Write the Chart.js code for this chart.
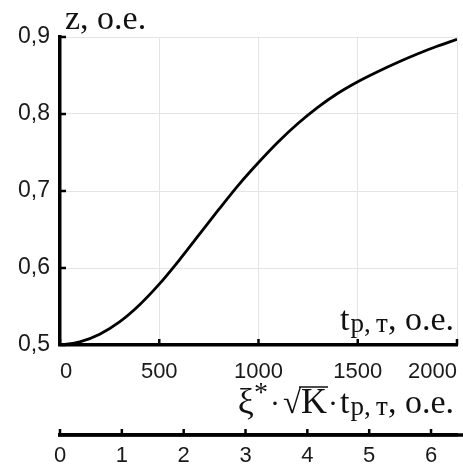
<!DOCTYPE html>
<html>
<head>
<meta charset="utf-8">
<script src="https://cdn.jsdelivr.net/npm/chart.js@4/dist/chart.umd.min.js"></script>
<style>
html,body{margin:0;padding:0;background:#fff;}
#c{display:block;}
</style>
</head>
<body>
<canvas id="c" width="463" height="468"></canvas>
<script>
// data
const tValues = [0,100,200,300,400,500,600,700,800,900,1000,1100,1200,1300,1400,1500,1600,1700,1800,1900,2000];
const zValues = [0.500,0.504,0.514,0.530,0.552,0.579,0.610,0.643,0.676,0.708,0.737,0.764,0.788,0.809,0.827,0.842,0.855,0.867,0.878,0.888,0.897];
const xTicks = [0,500,1000,1500,2000];
const yTicks = [0.5,0.6,0.7,0.8,0.9];
const x2Ticks = [0,1,2,3,4,5,6];
const x2Max = 6.42;

const SANS = '"Liberation Sans", Arial, sans-serif';
const SERIF = '"Liberation Serif", "Times New Roman", serif';

const tickMarks = {
  id: 'tickMarks',
  afterDraw(chart) {
    const ctx = chart.ctx;
    const {x, y, x2} = chart.scales;
    ctx.save();
    ctx.strokeStyle = '#000';
    ctx.lineWidth = 2.5;
    ctx.beginPath();
    xTicks.forEach(v => { const p = x.getPixelForValue(v); ctx.moveTo(p, y.bottom); ctx.lineTo(p, y.bottom - 6); });
    yTicks.forEach(v => { const p = y.getPixelForValue(v); ctx.moveTo(x.left, p); ctx.lineTo(x.left + 6, p); });
    x2Ticks.forEach(v => { const p = x2.getPixelForValue(v); ctx.moveTo(p, x2.top); ctx.lineTo(p, x2.top - 6); });
    ctx.stroke();
    // extend the lower axis line to the canvas edge
    ctx.lineWidth = 3.5;
    ctx.beginPath();
    ctx.moveTo(x2.left - 2, x2.top);
    ctx.lineTo(chart.width, x2.top);
    ctx.stroke();
    ctx.restore();
  }
};

function drawRich(ctx, parts, right, baseline) {
  let total = 0;
  parts.forEach(p => { ctx.font = p.size + 'px ' + SERIF; p.w = ctx.measureText(p.t).width + (p.gap || 0); total += p.w; });
  let x = right - total;
  parts.forEach(p => {
    ctx.font = p.size + 'px ' + SERIF;
    ctx.fillText(p.t, x + (p.pre || 0), baseline + (p.dy || 0));
    p.x = x + (p.pre || 0);
    x += p.w;
  });
  return parts;
}

const labels = {
  id: 'labels',
  afterDraw(chart) {
    const ctx = chart.ctx;
    const {x, y, x2} = chart.scales;
    ctx.save();
    ctx.fillStyle = '#111';
    ctx.textBaseline = 'alphabetic';
    ctx.textAlign = 'left';
    // y-axis title
    ctx.font = '34px ' + SERIF;
    ctx.fillText('z, o.e.', x.left + 5, 29);
    // x-axis title (inside plot)
    drawRich(ctx, [
      {t: 't', size: 34, gap: 1},
      {t: 'p,\u2009т', size: 27, dy: 2},
      {t: ', o.e.', size: 34}
    ], x.right - 3, y.bottom - 15);
    // second axis title
    const base2 = x2.top - 22;
    const parts = drawRich(ctx, [
      {t: 'ξ', size: 36},
      {t: '*', size: 28, dy: -12},
      {t: '·', size: 30, gap: 5, pre: 2},
      {t: '√', size: 33},
      {t: 'K', size: 36, gap: 1},
      {t: '·', size: 30, gap: 2},
      {t: 't', size: 34, gap: 1},
      {t: 'p,\u2009т', size: 27, dy: 2},
      {t: ', o.e.', size: 34}
    ], x.right - 3, base2);
    const k = parts[4];
    ctx.strokeStyle = '#111';
    ctx.lineWidth = 1.5;
    ctx.beginPath();
    ctx.moveTo(parts[3].x + parts[3].w - 2, base2 - 26);
    ctx.lineTo(k.x + k.w, base2 - 26);
    ctx.stroke();
    ctx.restore();
  }
};

new Chart(document.getElementById('c'), {
  type: 'line',
  data: {
    datasets: [{
      data: tValues.map((t, i) => ({x: t, y: zValues[i]})),
      borderColor: '#000',
      borderWidth: 2.8,
      pointRadius: 0,
      cubicInterpolationMode: 'monotone',
      fill: false
    }]
  },
  options: {
    responsive: false,
    animation: false,
    devicePixelRatio: 1,
    layout: {padding: {top: 37, right: 6, left: 0, bottom: 0}},
    plugins: {legend: {display: false}, tooltip: {enabled: false}, title: {display: false}},
    scales: {
      x: {
        type: 'linear', position: 'bottom', weight: 0,
        min: 0, max: 2000,
        afterBuildTicks: s => { s.ticks = xTicks.map(v => ({value: v})); },
        afterFit: s => { s.height = 90; s.paddingLeft = 0; s.paddingRight = 0; },
        grid: {color: '#e4e4e4', lineWidth: 1, drawTicks: false},
        border: {display: true, color: '#000', width: 3.5},
        ticks: {align: 'inner', padding: 14, color: '#1a1a1a', font: {family: SANS, size: 22}, maxRotation: 0, callback: v => String(v)}
      },
      x2: {
        type: 'linear', position: 'bottom', weight: 1,
        min: 0, max: x2Max,
        afterBuildTicks: s => { s.ticks = x2Ticks.map(v => ({value: v})); },
        afterFit: s => { s.height = 33; s.paddingLeft = 0; s.paddingRight = 0; },
        grid: {display: false, drawOnChartArea: false, drawTicks: false},
        border: {display: true, color: '#000', width: 3.5},
        ticks: {padding: 8, color: '#1a1a1a', font: {family: SANS, size: 22}, maxRotation: 0, callback: v => String(v)}
      },
      y: {
        type: 'linear', position: 'left',
        min: 0.5, max: 0.9,
        afterBuildTicks: s => { s.ticks = yTicks.map(v => ({value: v})); },
        afterFit: s => { s.width = 60; s.paddingTop = 0; s.paddingBottom = 0; },
        grid: {color: '#e4e4e4', lineWidth: 1, drawTicks: false},
        border: {display: true, color: '#000', width: 3.5},
        ticks: {padding: 10, color: '#1a1a1a', font: {family: SANS, size: 23}, callback: v => v.toFixed(1).replace('.', ',')}
      }
    }
  },
  plugins: [tickMarks, labels]
});
</script>
</body>
</html>
